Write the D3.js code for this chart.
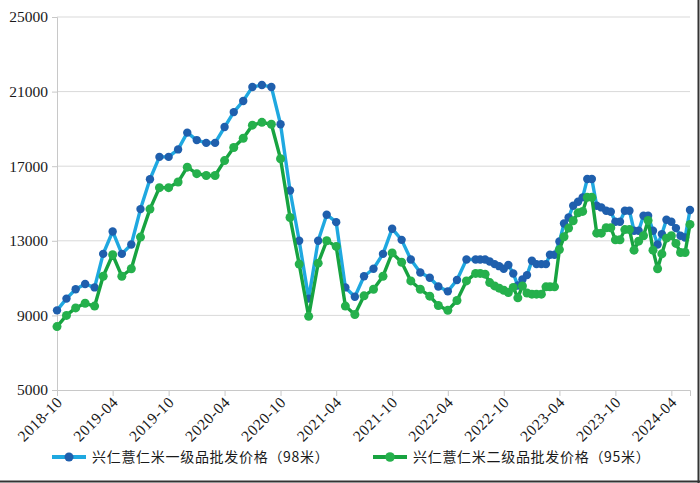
<!DOCTYPE html>
<html><head><meta charset="utf-8">
<script src="https://cdn.jsdelivr.net/npm/d3@7"></script>
<style>body{margin:0;background:#fff;overflow:hidden}</style>
</head><body>
<svg id="c" width="700" height="483"></svg>
<script>
// ---- data ----
const dates = [
 "2018-10-01","2018-11-01","2018-12-01",
 "2019-01-01","2019-02-01","2019-03-01","2019-04-01","2019-05-01","2019-06-01","2019-07-01","2019-08-01","2019-09-01","2019-10-01","2019-11-01","2019-12-01",
 "2020-01-01","2020-02-01","2020-03-01","2020-04-01","2020-05-01","2020-06-01","2020-07-01","2020-08-01","2020-09-01","2020-10-01","2020-11-01","2020-12-01",
 "2021-01-01","2021-02-01","2021-03-01","2021-04-01","2021-05-01","2021-06-01","2021-07-01","2021-08-01","2021-09-01","2021-10-01","2021-11-01","2021-12-01",
 "2022-01-01","2022-02-01","2022-03-01","2022-04-01","2022-05-01","2022-06-01",
 "2022-07-01","2022-07-16","2022-08-01","2022-08-16","2022-09-01","2022-09-16","2022-10-01","2022-10-16","2022-11-01","2022-11-16","2022-12-01","2022-12-16",
 "2023-01-01","2023-01-16","2023-02-01","2023-02-16","2023-03-01","2023-03-16","2023-04-01","2023-04-16","2023-05-01","2023-05-16","2023-06-01","2023-06-16",
 "2023-07-01","2023-07-16","2023-08-01","2023-08-16","2023-09-01","2023-09-16","2023-10-01","2023-10-16","2023-11-01","2023-11-16","2023-12-01","2023-12-16",
 "2024-01-01","2024-01-16","2024-02-01","2024-02-16","2024-03-01","2024-03-16","2024-04-01","2024-04-16","2024-05-01","2024-05-16","2024-06-01"
];
const grade1 = [
 9270,9900,10400,
 10680,10500,12300,13500,12300,12800,14700,16300,17500,17500,17900,18800,
 18400,18250,18250,19100,19900,20500,21250,21350,21250,19250,15700,13000,
 9900,13000,14400,14000,10500,10000,11100,11500,12300,13650,13050,12000,
 11300,11020,10550,10290,10900,12000,
 12000,12000,12000,11890,11750,11640,11500,11700,11250,10600,10930,11160,
 11930,11750,11750,11750,12250,12250,12960,13930,14250,14880,15090,15330,
 16310,16310,14880,14790,14610,14560,14020,14020,14610,14610,13540,13540,
 14340,14340,13540,12800,13360,14130,14020,13680,13270,13180,14650
];
const grade2 = [
 8400,9000,9400,
 9650,9500,11100,12250,11100,11500,13200,14700,15850,15850,16150,16950,
 16600,16500,16500,17300,18000,18500,19200,19350,19250,17400,14250,11750,
 8950,11800,13000,12700,9500,9050,10050,10400,11100,12350,11850,10850,
 10400,10030,9530,9270,9800,10850,
 11250,11250,11210,10760,10580,10460,10350,10225,10500,9940,10580,10200,
 10140,10140,10140,10530,10530,10530,12530,13215,13680,14075,14500,14575,
 15330,15330,13410,13410,13700,13700,13050,13050,13600,13600,12500,12980,
 13270,14090,12500,11500,12300,13140,13270,12860,12370,12370,13880
];
const seriesNames = ["兴仁薏仁米一级品批发价格（98米）","兴仁薏仁米二级品批发价格（95米）"];
const yTicks = [5000,9000,13000,17000,21000,25000];
const xTickLabels = ["2018-10","2019-04","2019-10","2020-04","2020-10","2021-04","2021-10","2022-04","2022-10","2023-04","2023-10","2024-04"];

// ---- chart ----
const svg = d3.select("#c");
const parse = d3.timeParse("%Y-%m-%d");
const parseM = d3.timeParse("%Y-%m");
const x = d3.scaleTime().domain([parse("2018-10-01"), parse("2024-06-01")]).range([57, 690]);
const y = d3.scaleLinear().domain([5000, 25000]).range([390, 17]);

const serif = "'Liberation Serif','DejaVu Serif',serif";

// gridlines
svg.append("g").selectAll("line").data(yTicks.filter(t=>t>5000)).join("line")
  .attr("x1", 57).attr("x2", 690).attr("y1", d=>y(d)).attr("y2", d=>y(d))
  .attr("stroke", "#d9d9d9").attr("stroke-width", 1);

// y axis
const ya = svg.append("g").attr("transform","translate(57,0)")
  .call(d3.axisLeft(y).tickValues(yTicks).tickSize(5).tickPadding(4).tickFormat(d3.format("d")));
ya.select(".domain").attr("stroke","#c8c8c8");
ya.selectAll(".tick line").attr("stroke","#c8c8c8");
ya.selectAll(".tick text").attr("font-family",serif).attr("font-size",15.5).attr("fill","#1a1a1a");

// x axis
const xa = svg.append("g").attr("transform","translate(0,390)")
  .call(d3.axisBottom(x).tickValues(xTickLabels.map(parseM)).tickSize(6).tickFormat(d3.timeFormat("%Y-%m")));
xa.select(".domain").attr("stroke","#c8c8c8");
xa.selectAll(".tick line").attr("stroke","#c8c8c8");
xa.selectAll(".tick text").attr("font-family",serif).attr("font-size",15.5).attr("fill","#1a1a1a")
  .attr("letter-spacing","0.6px")
  .attr("text-anchor","end").attr("dy",null).attr("y",0)
  .attr("transform","translate(6,13) rotate(-45)");

const data1 = dates.map((d,i)=>({date:parse(d), v:grade1[i]}));
const data2 = dates.map((d,i)=>({date:parse(d), v:grade2[i]}));
const line = d3.line().x(d=>x(d.date)).y(d=>y(d.v));

const styles = [
  {line:"#1fa8e0", dot:"#1f5fad", r:4.2},
  {line:"#17a340", dot:"#25b04c", r:4.5}
];
[data1, data2].forEach((data, k) => {
  const g = svg.append("g");
  g.append("path").datum(data).attr("d", line).attr("fill","none")
    .attr("stroke", styles[k].line).attr("stroke-width", 3.4).attr("stroke-linejoin","round");
  g.selectAll("circle").data(data).join("circle")
    .attr("cx", d=>x(d.date)).attr("cy", d=>y(d.v)).attr("r", styles[k].r)
    .attr("fill", styles[k].dot);
});

// legend
const legendX = [52, 373];
seriesNames.forEach((name, k) => {
  const g = svg.append("g").attr("transform", `translate(${legendX[k]},457)`);
  g.append("line").attr("x1",0).attr("x2",34).attr("y1",0).attr("y2",0)
    .attr("stroke", styles[k].line).attr("stroke-width",4);
  g.append("circle").attr("cx",17).attr("cy",0).attr("r",styles[k].r+0.3).attr("fill",styles[k].dot);
  g.append("text").attr("x",40).attr("y",5).text(name)
    .attr("letter-spacing","0.7px")
    .attr("font-family","'Noto Sans CJK SC',sans-serif").attr("font-size",14).attr("fill","#1a1a1a");
});

// frame edges
svg.append("line").attr("x1",698.5).attr("x2",698.5).attr("y1",0).attr("y2",483).attr("stroke","#333").attr("stroke-width",2);
svg.append("line").attr("x1",0).attr("x2",700).attr("y1",481.5).attr("y2",481.5).attr("stroke","#333").attr("stroke-width",2);
</script>
</body></html>
